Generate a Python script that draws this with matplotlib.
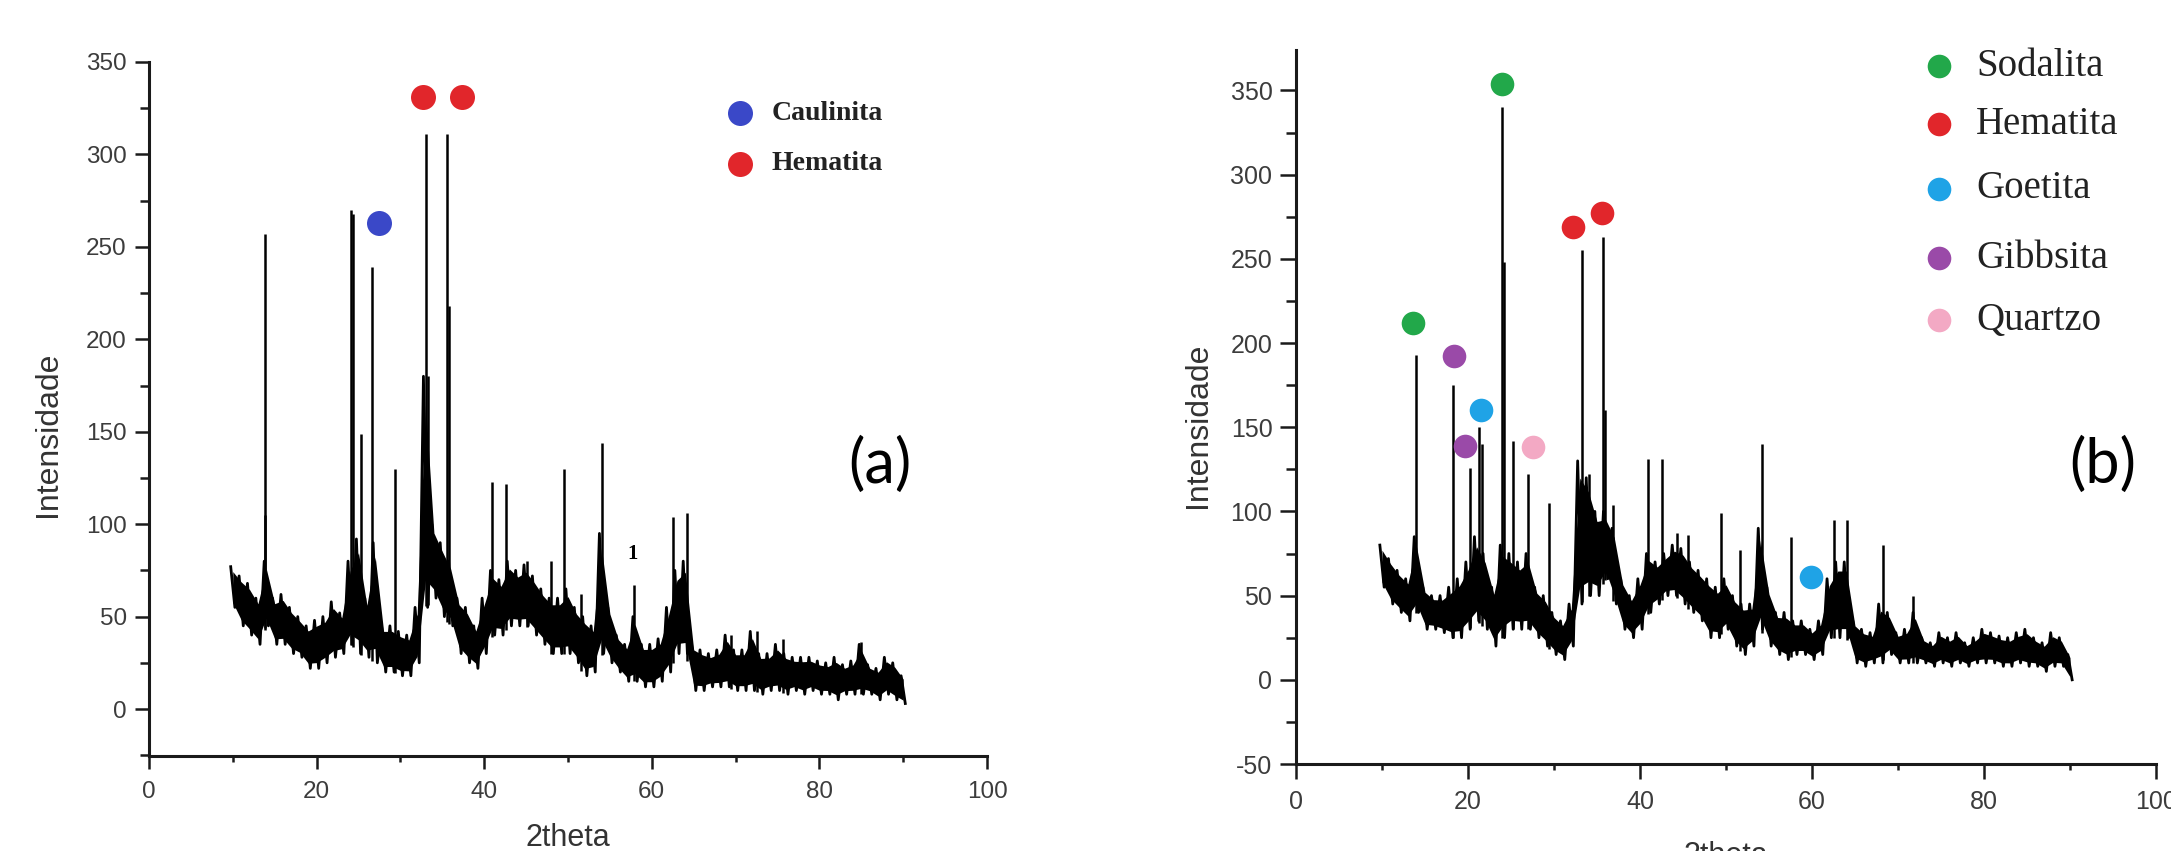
import numpy as np
import matplotlib
matplotlib.use("Agg")
import matplotlib.pyplot as plt
from matplotlib.lines import Line2D
from matplotlib.ticker import MultipleLocator

plt.rcParams["axes.unicode_minus"] = False

# ---------------- data ----------------
# 2theta grid (degrees) for the background noise band
theta = list(range(10, 91))

# sample (a): lower / upper envelope of the noisy background
low_a = [55, 45, 40, 35, 45, 35, 35, 30, 28, 22, 22, 25, 28, 30, 35, 30, 28, 25, 20, 20,
         18, 18, 25, 55, 60, 50, 45, 30, 25, 22, 30, 40, 40, 45, 45, 45, 40, 35, 30, 30,
         30, 25, 18, 20, 30, 25, 20, 15, 15, 12, 12, 15, 20, 30, 30, 10, 10, 12, 12, 12,
         10, 10, 10, 8, 10, 10, 8, 10, 8, 10, 8, 8, 5, 8, 8, 8, 8, 5, 8, 5, 3]
high_a = [77, 72, 68, 60, 80, 60, 62, 55, 50, 45, 48, 50, 58, 52, 80, 92, 60, 90, 45, 45,
          42, 40, 55, 180, 100, 90, 80, 60, 55, 45, 60, 75, 70, 80, 75, 78, 72, 65, 60, 60,
          65, 55, 50, 45, 95, 55, 40, 35, 50, 35, 35, 38, 55, 75, 80, 35, 32, 30, 32, 40,
          32, 32, 42, 30, 30, 35, 30, 28, 28, 28, 26, 25, 28, 24, 26, 35, 24, 22, 28, 25, 18]

# sample (a): sharp reflections
peak_pos_a = [13.8, 13.9, 24.1, 24.3, 25.3, 26.65, 29.3, 33.1, 33.3, 35.6, 35.8, 40.9,
              42.6, 45.1, 48.0, 49.5, 51.6, 54.1, 57.9, 62.5, 64.2, 69.5, 72.5, 75.7, 85.0]
peak_h_a = [257, 105, 270, 268, 149, 239, 130, 311, 180, 311, 218, 123,
            122, 80, 80, 130, 62, 144, 67, 104, 106, 40, 42, 38, 36]

# sample (b): lower / upper envelope of the noisy background
low_b = [55, 45, 40, 35, 40, 30, 30, 28, 25, 25, 30, 35, 30, 20, 25, 30, 30, 30, 25, 20,
         15, 12, 20, 45, 50, 50, 60, 45, 30, 25, 30, 40, 45, 50, 50, 45, 40, 35, 25, 25,
         30, 20, 15, 20, 30, 20, 15, 12, 15, 15, 12, 15, 25, 25, 25, 10, 8, 10, 10, 15,
         10, 10, 10, 10, 8, 10, 8, 10, 8, 10, 10, 10, 8, 8, 10, 8, 8, 5, 8, 8, 0]
high_b = [80, 72, 65, 60, 85, 55, 50, 50, 55, 60, 70, 85, 75, 55, 80, 75, 70, 75, 55, 50,
          40, 35, 45, 130, 120, 100, 100, 90, 60, 50, 60, 75, 70, 75, 80, 78, 70, 65, 60, 55,
          60, 50, 45, 45, 90, 55, 40, 40, 35, 35, 30, 35, 60, 70, 70, 35, 30, 28, 45, 40,
          28, 30, 40, 25, 22, 28, 25, 28, 22, 25, 30, 28, 26, 25, 28, 30, 25, 22, 28, 25, 15]

# sample (b): sharp reflections
peak_pos_b = [13.9, 18.3, 20.2, 21.3, 21.6, 24.0, 24.2, 25.2, 27.0, 29.4, 33.2, 34.1,
              35.7, 35.9, 36.9, 40.9, 42.5, 44.3, 45.6, 49.4, 51.6, 54.2, 57.5, 62.5,
              64.1, 68.3, 71.8]
peak_h_b = [193, 175, 126, 150, 140, 340, 248, 142, 122, 105, 255, 122,
            263, 160, 104, 131, 131, 87, 86, 99, 77, 140, 85, 95,
            95, 80, 50]

# phase identification markers (2theta, intensity)
caulinita_a = ([27.5], [263])
hematita_a = ([32.7, 37.3], [331, 331])

sodalita_b = ([13.65, 24.0], [212, 354])
hematita_b = ([32.2, 35.6], [269, 277])
goetita_b = ([21.5, 59.9], [160, 61])
gibbsita_b = ([18.4, 19.7], [192, 139])
quartzo_b = ([27.5], [138])

C_BLUE = "#3a48c8"
C_RED = "#e1262b"
C_GREEN = "#22a84a"
C_CYAN = "#1fa3e6"
C_PURPLE = "#9a4aa8"
C_PINK = "#f3a9c4"

TICK_COLOR = "#3c3c3c"
W, H = 2171, 851


def fx(px):
    return px / W


def fy(py):
    return 1 - py / H


def draw_pattern(ax, low, high, pos, heights):
    th = np.asarray(theta, dtype=float)
    lo = np.asarray(low, dtype=float)
    hi = np.asarray(high, dtype=float)
    # dense noisy band
    ax.fill_between(th, lo + 0.12 * (hi - lo), hi - 0.12 * (hi - lo), color="black", lw=0)
    xs = np.empty(2 * len(th))
    ys = np.empty(2 * len(th))
    xs[0::2] = th - 0.25
    xs[1::2] = th + 0.25
    ys[0::2] = hi
    ys[1::2] = lo
    ax.plot(xs, ys, color="black", lw=2.0)
    # sharp reflections
    base = np.interp(pos, th, lo)
    ax.vlines(pos, base, heights, color="black", lw=1.8)


def style_axes(ax, ylim, yfs, xfs, ylen, xlen, ypad, xpad):
    ax.set_xlim(0, 100)
    ax.set_ylim(*ylim)
    for s in ("top", "right"):
        ax.spines[s].set_visible(False)
    for s in ("left", "bottom"):
        ax.spines[s].set_linewidth(2.2)
        ax.spines[s].set_color("#1a1a1a")
    ax.xaxis.set_major_locator(MultipleLocator(20))
    ax.xaxis.set_minor_locator(MultipleLocator(10))
    ax.yaxis.set_major_locator(MultipleLocator(50))
    ax.yaxis.set_minor_locator(MultipleLocator(25))
    ax.tick_params(axis="y", which="major", direction="out", length=ylen, width=1.8,
                   color="#1a1a1a", labelsize=yfs, labelcolor=TICK_COLOR, pad=ypad)
    ax.tick_params(axis="y", which="minor", direction="out", length=ylen * 0.62, width=1.8,
                   color="#1a1a1a")
    ax.tick_params(axis="x", which="major", direction="out", length=xlen, width=1.8,
                   color="#1a1a1a", labelsize=xfs, labelcolor=TICK_COLOR, pad=xpad)
    ax.tick_params(axis="x", which="minor", direction="out", length=4, width=1.8,
                   color="#1a1a1a")
    for lab in ax.get_xticklabels() + ax.get_yticklabels():
        lab.set_fontfamily("Liberation Sans")


fig = plt.figure(figsize=(W / 100, H / 100), dpi=100)
fig.patch.set_facecolor("white")

# ---------------- panel (a) ----------------
ax1 = fig.add_axes([fx(149), fy(756), fx(987) - fx(149), fy(62) - fy(756)])
draw_pattern(ax1, low_a, high_a, peak_pos_a, peak_h_a)
style_axes(ax1, (-25.4, 350), 17.5, 17.5, 10, 9, 6, 9)
ax1.plot(*caulinita_a, "o", color=C_BLUE, ms=18, mec="none", clip_on=False)
ax1.plot(*hematita_a, "o", color=C_RED, ms=18, mec="none", clip_on=False)
ax1.text(57.7, 84, "1", family="Liberation Serif", fontweight="bold", fontsize=15,
         ha="center", va="center")

fig.text(fx(48), fy(434), "Intensidade", rotation=90, ha="center", va="center",
         family="Liberation Sans", fontsize=23, color="#333333")
fig.text(fx(568), fy(846), "2theta", ha="center", va="baseline",
         family="Liberation Sans", fontsize=22, color="#333333")
fig.text(fx(880), fy(465), "(a)", ha="center", va="center", family="Lato", fontsize=44)

for (y, c, name) in [(113, C_BLUE, "Caulinita"), (164, C_RED, "Hematita")]:
    fig.add_artist(Line2D([fx(740)], [fy(y)], marker="o", color=c, ms=18, mec="none",
                          transform=fig.transFigure))
    fig.text(fx(772), fy(y), name, ha="left", va="center", family="Liberation Serif",
             fontweight="bold", fontsize=20, color="#222222")

# ---------------- panel (b) ----------------
ax2 = fig.add_axes([fx(1296), fy(764), fx(2156) - fx(1296), fy(50) - fy(764)])
draw_pattern(ax2, low_b, high_b, peak_pos_b, peak_h_b)
style_axes(ax2, (-50, 374), 18, 18, 11.5, 10.5, 5.5, 8)
ax2.plot(*sodalita_b, "o", color=C_GREEN, ms=17, mec="none", clip_on=False)
ax2.plot(*hematita_b, "o", color=C_RED, ms=17, mec="none", clip_on=False)
ax2.plot(*goetita_b, "o", color=C_CYAN, ms=17, mec="none", clip_on=False)
ax2.plot(*gibbsita_b, "o", color=C_PURPLE, ms=17, mec="none", clip_on=False)
ax2.plot(*quartzo_b, "o", color=C_PINK, ms=17, mec="none", clip_on=False)

fig.text(fx(1198), fy(425), "Intensidade", rotation=90, ha="center", va="center",
         family="Liberation Sans", fontsize=23, color="#333333")
fig.text(fx(1726), fy(864), "2theta", ha="center", va="baseline",
         family="Liberation Sans", fontsize=22, color="#333333")
fig.text(fx(2103), fy(465), "(b)", ha="center", va="center", family="Lato", fontsize=44)

legend_b = [(66, C_GREEN, "Sodalita"), (124, C_RED, "Hematita"), (189, C_CYAN, "Goetita"),
            (258, C_PURPLE, "Gibbsita"), (320, C_PINK, "Quartzo")]
for (y, c, name) in legend_b:
    fig.add_artist(Line2D([fx(1939)], [fy(y)], marker="o", color=c, ms=17, mec="none",
                          transform=fig.transFigure))
    fig.text(fx(1976), fy(y), name, ha="left", va="center", family="Liberation Serif",
             fontsize=28, color="#222222")

fig.savefig("out.png", dpi=100, facecolor="white")
